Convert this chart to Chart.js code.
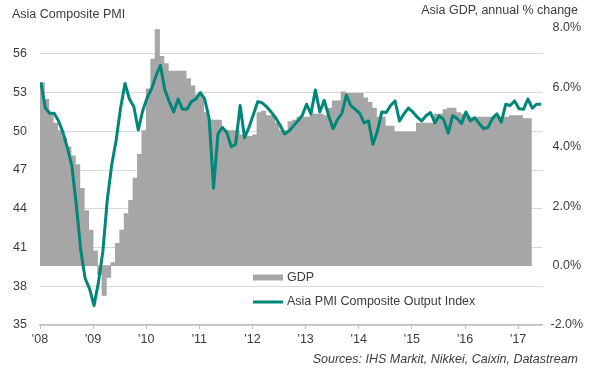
<!DOCTYPE html>
<html>
<head>
<meta charset="utf-8">
<script src="https://cdn.jsdelivr.net/npm/chart.js@4.4.1/dist/chart.umd.min.js"></script>
<style>
html,body{margin:0;padding:0;background:#fff;}
canvas{display:block;}
</style>
</head>
<body>
<canvas id="c" width="590" height="370"></canvas>
<script>
// Monthly values starting January 2008
const gdpLabel = 'GDP';
const pmiLabel = 'Asia PMI Composite Output Index';
const gdpValues = [
  6.15,5.6,5.15,4.8,4.55,4.3,4.0,3.7,3.4,2.6,1.85,1.2,
  0.5,-0.3,-1.0,-0.4,0.1,0.75,1.2,1.75,2.2,2.95,3.75,4.55,
  5.95,6.95,7.95,7.05,6.8,6.55,6.55,6.55,6.55,6.3,6.05,5.75,
  5.75,5.15,4.9,4.9,4.9,4.55,4.55,4.55,4.55,4.4,4.35,4.35,
  4.4,5.15,5.2,5.05,5.05,4.8,4.55,4.55,4.85,4.9,5.0,5.0,
  5.0,5.1,5.1,5.1,5.05,5.3,5.55,5.55,5.85,5.8,5.8,5.8,
  5.8,5.65,5.5,5.3,5.0,5.0,4.7,4.7,4.5,4.5,4.5,4.5,
  4.5,4.8,4.8,4.8,4.8,5.1,5.1,5.25,5.3,5.3,5.15,5.1,
  5.05,5.0,5.0,5.0,5.0,5.0,5.0,5.0,5.0,5.0,5.05,5.05,
  5.05,4.95,4.95
];
const pmiValues = [
  53.8,51.8,51.4,51.4,50.8,49.9,48.7,47.3,44.3,40.8,38.6,37.8,
  36.5,38.3,40.7,44.7,47.4,49.3,51.8,53.7,52.5,51.9,50.1,51.6,
  52.6,53.3,54.3,55.1,53.2,52.3,51.5,52.5,51.7,51.7,52.3,52.5,
  53.0,52.5,51.0,45.6,49.8,50.3,49.9,48.8,49.0,52.0,49.5,50.3,
  51.3,52.3,52.2,51.9,51.5,51.05,50.5,49.8,50.0,50.4,50.8,51.2,
  52.1,51.35,53.2,51.5,52.4,51.2,50.2,50.9,51.4,52.8,52.0,51.7,
  51.4,50.65,50.8,49.0,50.0,51.5,51.45,52.0,52.35,50.8,51.35,51.8,
  51.5,51.1,50.8,51.2,51.45,50.65,51.2,50.9,49.85,51.2,51.0,50.6,
  51.5,50.8,51.05,50.6,50.2,50.3,51.0,51.35,50.7,52.1,52.0,52.35,
  51.75,51.7,52.5,51.8,52.1,52.1
];
const yearTickLabels = ["'08","'09","'10","'11","'12","'13","'14","'15","'16","'17"];
const pmiTicks = [35,38,41,44,47,50,53,56];
const gdpTicks = [-2,0,2,4,6,8];
const titleLeft = 'Asia Composite PMI';
const titleRight = 'Asia GDP, annual % change';
const sourceText = 'Sources: IHS Markit, Nikkei, Caixin, Datastream';

const FONT = "'Liberation Sans', Arial, sans-serif";
const TXT = '#3c3c3c';
const GRAY = '#a6a6a6';
const TEAL = '#00877a';

const gdpData = gdpValues.map((v, i) => ({x: i + 0.5, y: v}));
const pmiData = pmiValues.map((v, i) => ({x: i + 0.2, y: v}));

const overlay = {
  id: 'overlay',
  afterDraw(chart) {
    const ctx = chart.ctx;
    const area = chart.chartArea;
    ctx.save();
    ctx.fillStyle = TXT;
    ctx.font = '12.5px ' + FONT;
    ctx.textBaseline = 'alphabetic';
    ctx.textAlign = 'left';
    ctx.fillText(titleLeft, 12, 18);
    ctx.textAlign = 'right';
    ctx.fillText(titleRight, 578, 14);
    ctx.font = 'italic 12.5px ' + FONT;
    ctx.fillText(sourceText, 578, 363);
    // legend
    const lx = area.left + 213;
    const ds = chart.data.datasets;
    ctx.textAlign = 'left';
    ctx.textBaseline = 'middle';
    ctx.font = '12.5px ' + FONT;
    ctx.fillStyle = ds[1].backgroundColor;
    ctx.fillRect(lx, 274.5, 30, 6);
    ctx.fillStyle = TXT;
    ctx.fillText(ds[1].label, lx + 34, 278);
    ctx.strokeStyle = ds[0].borderColor;
    ctx.lineWidth = 3;
    ctx.beginPath();
    ctx.moveTo(lx, 302);
    ctx.lineTo(lx + 30, 302);
    ctx.stroke();
    ctx.fillStyle = TXT;
    ctx.fillText(ds[0].label, lx + 34, 302);
    ctx.restore();
  }
};

new Chart(document.getElementById('c'), {
  data: {
    datasets: [
      {
        type: 'line',
        label: pmiLabel,
        data: pmiData,
        yAxisID: 'y',
        borderColor: TEAL,
        borderWidth: 3,
        pointRadius: 0,
        tension: 0,
        borderJoinStyle: 'round',
        fill: false,
        order: 0
      },
      {
        type: 'bar',
        label: gdpLabel,
        data: gdpData,
        yAxisID: 'y1',
        backgroundColor: GRAY,
        borderWidth: 0,
        barPercentage: 1,
        categoryPercentage: 1,
        order: 1
      }
    ]
  },
  options: {
    responsive: false,
    devicePixelRatio: 1,
    animation: false,
    layout: {padding: {top: 28, left: 0, right: 0, bottom: 0}},
    plugins: {legend: {display: false}, tooltip: {enabled: false}},
    scales: {
      x: {
        type: 'linear',
        offset: false,
        min: 0,
        max: 113.5,
        afterBuildTicks: s => { s.ticks = yearTickLabels.map((l, i) => ({value: i * 12})); },
        afterFit: s => { s.height = 45; },
        ticks: {
          callback: (v) => yearTickLabels[Math.round(v / 12)],
          font: {size: 12.5, family: FONT},
          color: TXT,
          padding: 3,
          maxRotation: 0,
          autoSkip: false
        },
        grid: {offset: false, drawOnChartArea: false, drawTicks: true, tickLength: 4, color: '#bfbfbf', lineWidth: 1},
        border: {color: '#bfbfbf', width: 1.5}
      },
      y: {
        position: 'left',
        min: 35,
        max: 58,
        afterBuildTicks: s => { s.ticks = pmiTicks.map(v => ({value: v})); },
        afterFit: s => { s.width = 40; },
        ticks: {font: {size: 12.5, family: FONT}, color: TXT, padding: 13},
        grid: {color: '#d9d9d9', lineWidth: 1, drawTicks: false},
        border: {display: false}
      },
      y1: {
        position: 'right',
        min: -2,
        max: 8,
        afterBuildTicks: s => { s.ticks = gdpTicks.map(v => ({value: v})); },
        afterFit: s => { s.width = 47.5; },
        ticks: {
          font: {size: 12.5, family: FONT},
          color: TXT,
          padding: 8,
          crossAlign: 'center',
          callback: v => v.toFixed(1) + '%'
        },
        grid: {display: false, drawTicks: false},
        border: {display: false}
      }
    }
  },
  plugins: [overlay]
});
</script>
</body>
</html>
